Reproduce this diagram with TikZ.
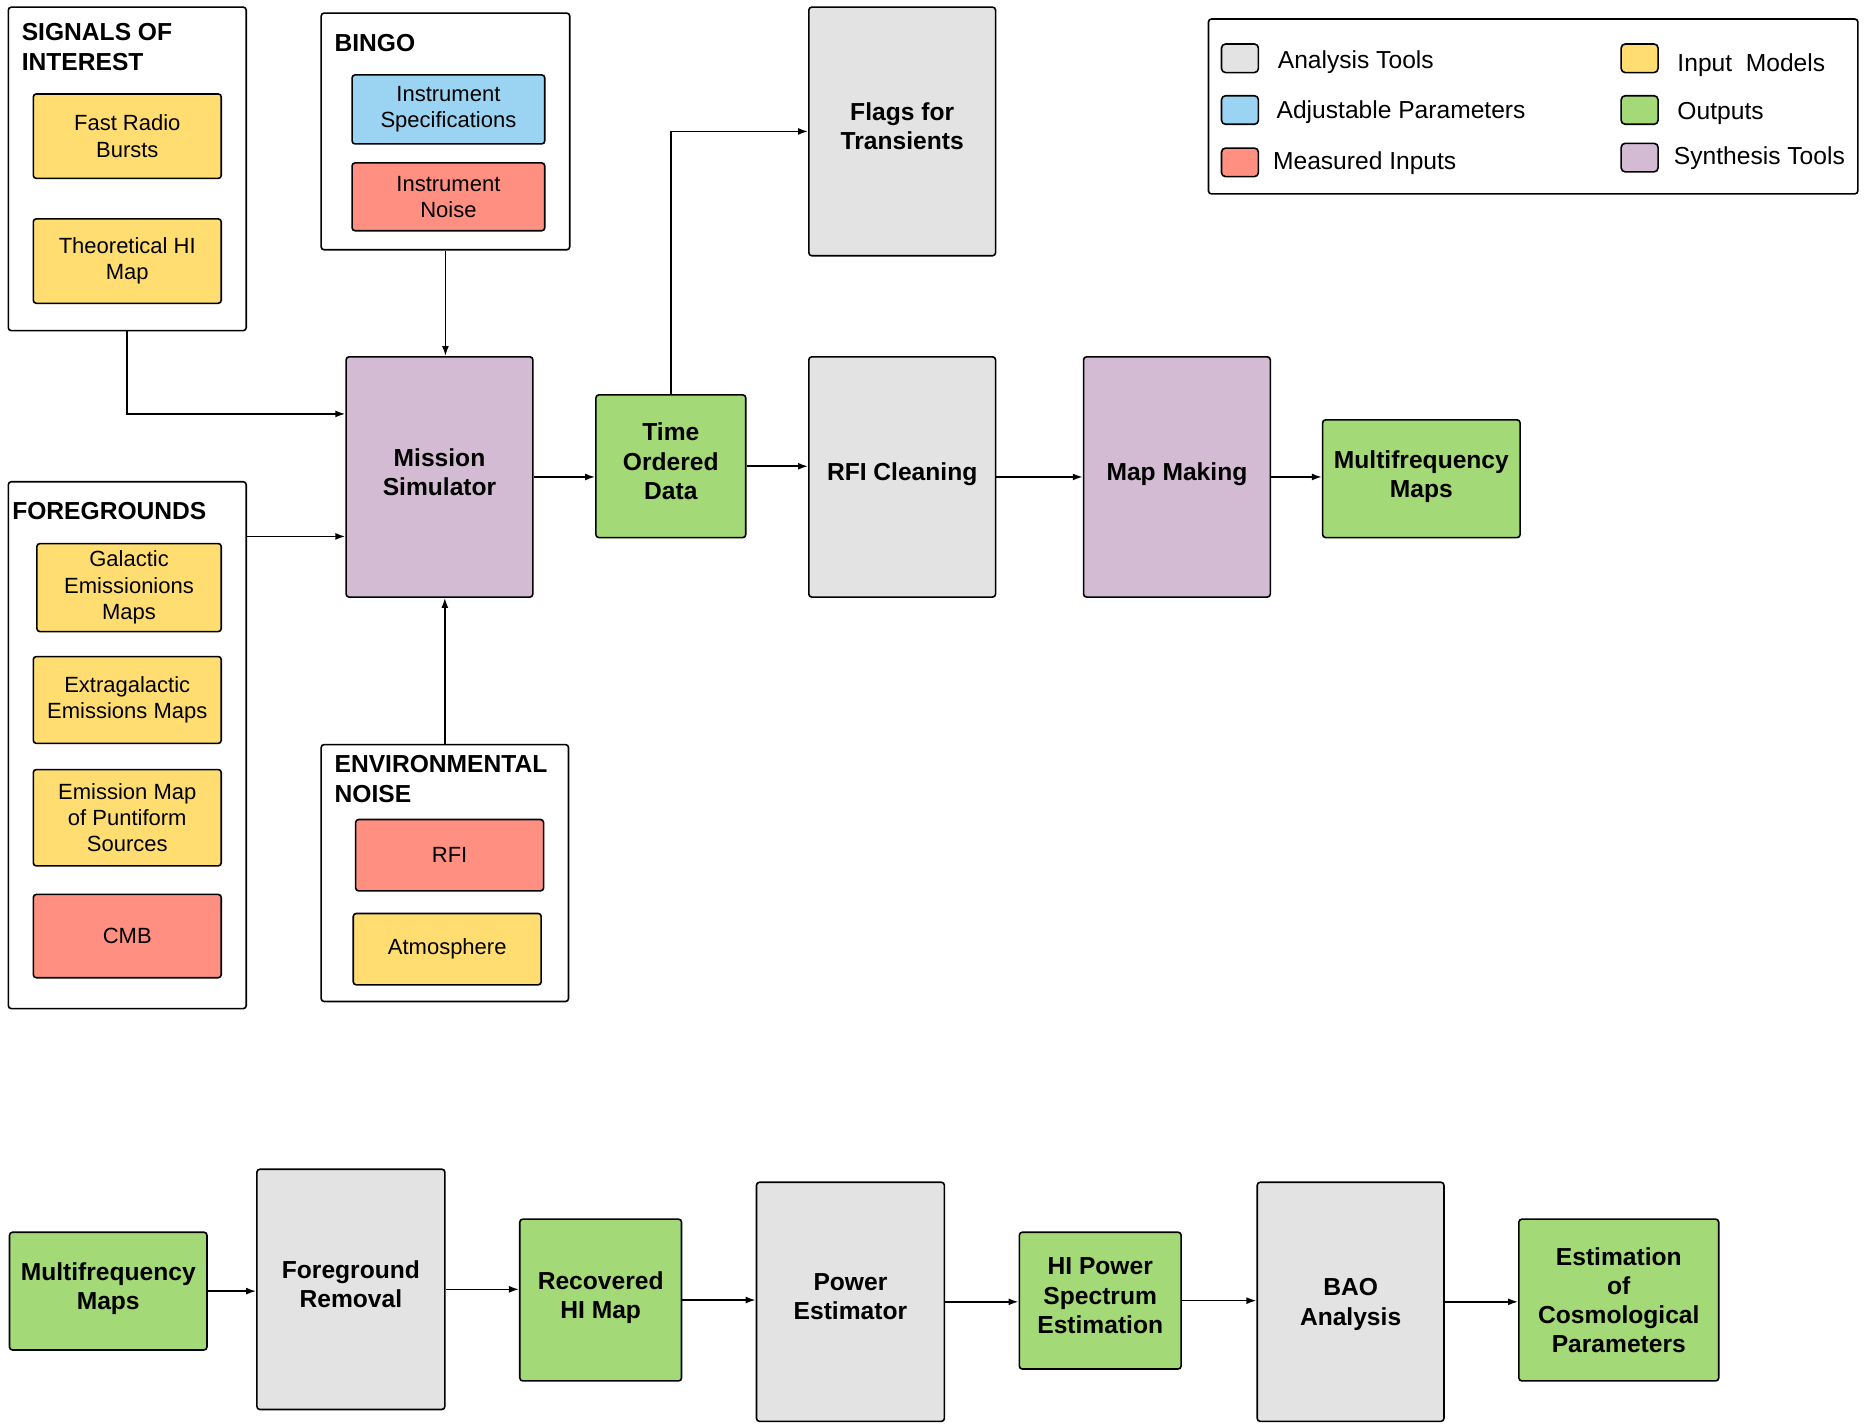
\documentclass[tikz,border=0pt]{standalone}
\usepackage{fontspec}
\setmainfont{Liberation Sans}
\usetikzlibrary{arrows.meta,calc}
\definecolor{inmodel}{HTML}{FFDD71}
\definecolor{adjpar}{HTML}{9AD4F2}
\definecolor{measin}{HTML}{FF8F80}
\definecolor{outp}{HTML}{A3D977}
\definecolor{synth}{HTML}{D2BBD3}
\definecolor{anatool}{HTML}{E3E3E3}
\newcommand\px{0.5947pt}
\begin{document}
\begin{tikzpicture}[x=0.5947pt,y=-0.5947pt,
  sz/.style 2 args={minimum width=#1*\px,minimum height=#2*\px},
  box/.style={draw,line width=0.8pt,rounded corners=1.5pt,align=center,inner sep=2pt},
  small/.style={box,font=\fontsize{11}{13.2}\selectfont},
  big/.style={box,text depth=5pt,font=\fontsize{12.3}{14.6}\selectfont\bfseries},
  grp/.style={draw,line width=0.8pt,rounded corners=1.5pt,fill=white,inner sep=0pt},
  ttl/.style={anchor=base west,align=left,inner sep=0pt,font=\fontsize{12.3}{14.9}\selectfont\bfseries},
  key/.style={draw,line width=0.8pt,rounded corners=2pt,sz={31}{24},inner sep=0pt},
  keytxt/.style={anchor=base west,inner sep=0pt,font=\fontsize{12.3}{14.6}\selectfont},
  arr/.style={-{Latex[length=5pt,width=3.5pt]},line width=0.8pt}]
\useasboundingbox (0,0) rectangle (1568,1197);
\fill[white] (0,0) rectangle (1568,1197);

% input groups
\node[grp,sz={200}{272}] (sig) at (107,142) {};
\node[ttl] (sigt) at (18,59.4) {SIGNALS OF\\INTEREST};
\node[small,fill=inmodel,sz={158}{71}] (frb) at (107,114.5) {Fast Radio\\Bursts};
\node[small,fill=inmodel,sz={158}{71}] (thi) at (107,219.5) {Theoretical HI\\Map};

\node[grp,sz={209}{199}] (bingo) at (374.5,110.5) {};
\node[ttl] (bingot) at (281,43.4) {BINGO};
\node[small,fill=adjpar,sz={162}{58}] (ispec) at (377,92) {Instrument\\Specifications};
\node[small,fill=measin,sz={162}{57}] (inoise) at (377,165.5) {Instrument\\Noise};

\node[grp,sz={200}{443}] (fg) at (107,626.5) {};
\node[ttl] (fgt) at (10,436.4) {FOREGROUNDS};
\node[small,fill=inmodel,sz={155}{74}] (gal) at (108.5,494) {Galactic\\Emissionions\\Maps};
\node[small,fill=inmodel,sz={158}{73}] (xgal) at (107,588.5) {Extragalactic\\Emissions Maps};
\node[small,fill=inmodel,sz={158}{81}] (punt) at (107,687.5) {Emission Map\\of Puntiform\\Sources};
\node[small,fill=measin,sz={158}{70}] (cmb) at (107,787) {CMB};

\node[grp,sz={208}{216}] (env) at (374,734) {};
\node[ttl] (envt) at (281,674.4) {ENVIRONMENTAL\\NOISE};
\node[small,fill=measin,sz={158}{60}] (rfi) at (378,719) {RFI};
\node[small,fill=inmodel,sz={158}{60}] (atm) at (376,798) {Atmosphere};

% legend
\node[grp,sz={546}{147}] (leg) at (1289,89.5) {};
\node[key,fill=anatool] (k1) at (1042.5,49) {};
\node[key,fill=adjpar] (k2) at (1042.5,92.5) {};
\node[key,fill=measin] (k3) at (1042.5,136.5) {};
\node[key,fill=inmodel] (k4) at (1378.5,49) {};
\node[key,fill=outp] (k5) at (1378.5,92.5) {};
\node[key,fill=synth] (k6) at (1378.5,132.5) {};
\node[keytxt] (l1) at (1074,57.4) {Analysis Tools};
\node[keytxt] (l2) at (1073,99.4) {Adjustable Parameters};
\node[keytxt] (l3) at (1070,142.4) {Measured Inputs};
\node[keytxt] (l4) at (1410,60.4) {Input\ \ Models};
\node[keytxt] (l5) at (1410,100.4) {Outputs};
\node[keytxt] (l6) at (1407,138.4) {Synthesis Tools};

% simulation chain
\node[big,fill=synth,sz={157}{202}] (ms) at (369.5,401) {Mission\\Simulator};
\node[big,fill=outp,sz={126}{120}] (tod) at (564,392) {Time\\Ordered\\Data};
\node[big,fill=anatool,sz={157}{209}] (flags) at (758.5,110.5) {Flags for\\Transients};
\node[big,fill=anatool,sz={157}{202}] (rfic) at (758.5,401) {RFI Cleaning};
\node[big,fill=synth,sz={157}{202}] (mm) at (989.5,401) {Map Making};
\node[big,fill=outp,sz={166}{99}] (mfm) at (1195,402.5) {Multifrequency\\Maps};

\coordinate (sigin) at ($(ms.west)+(0,-53)$);
\coordinate (fgin) at ($(ms.west)+(0,50)$);
\draw[arr] (sig.south) |- (sigin);
\draw[arr] (fgin -| fg.east) -- (fgin);
\draw[arr] (bingo.south) -- (bingo.south |- ms.north);
\draw[arr] (env.north) -- (env.north |- ms.south);
\draw[arr] (ms.east) -- (ms.east -| tod.west);
\draw[arr] (tod.east) -- (tod.east -| rfic.west);
\draw[arr] (tod.north) |- (flags.west);
\draw[arr] (rfic.east) -- (rfic.east -| mm.west);
\draw[arr] (mm.east) -- (mm.east -| mfm.west);

% analysis chain
\node[big,fill=outp,sz={166}{99}] (mfm2) at (91,1085.5) {Multifrequency\\Maps};
\node[big,fill=anatool,sz={158}{202}] (fgr) at (295,1084) {Foreground\\Removal};
\node[big,fill=outp,sz={136}{136}] (rhi) at (505,1093) {Recovered\\HI Map};
\node[big,fill=anatool,sz={158}{201}] (pe) at (715,1094.5) {Power\\Estimator};
\node[big,fill=outp,sz={136}{115}] (hips) at (925,1093.5) {HI Power\\Spectrum\\Estimation};
\node[big,fill=anatool,sz={157}{201},text depth=0pt] (bao) at (1135.5,1094.5) {BAO\\Analysis};
\node[big,fill=outp,sz={168}{136},text depth=0pt] (ecp) at (1361,1093) {Estimation\\of\\Cosmological\\Parameters};

\draw[arr] (mfm2.east) -- (mfm2.east -| fgr.west);
\draw[arr] (fgr.east) -- (fgr.east -| rhi.west);
\draw[arr] (rhi.east) -- (rhi.east -| pe.west);
\draw[arr] (pe.east) -- (pe.east -| hips.west);
\draw[arr] (hips.east) -- (hips.east -| bao.west);
\draw[arr] (bao.east) -- (bao.east -| ecp.west);
\end{tikzpicture}
\end{document}
